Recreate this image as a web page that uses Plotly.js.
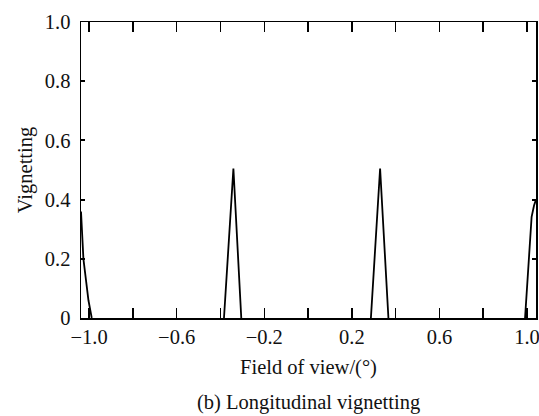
<!DOCTYPE html>
<html>
<head>
<meta charset="utf-8">
<script src="https://cdn.plot.ly/plotly-3.0.1.min.js"></script>
<style>html,body{margin:0;padding:0;background:#fff;}#chart{width:539px;height:416px;}</style>
</head>
<body>
<div id="chart"></div>
<script>
// Data
const leftEdgeX  = [-1.037, -1.026, -1.003, -0.988];
const leftEdgeY  = [0.36, 0.20, 0.06, 0];
const peak1X     = [-0.384, -0.341, -0.305];
const peak1Y     = [0, 0.505, 0];
const peak2X     = [0.287, 0.329, 0.367];
const peak2Y     = [0, 0.505, 0];
const rightEdgeX = [0.991, 1.009, 1.021, 1.032, 1.041];
const rightEdgeY = [0, 0.196, 0.342, 0.38, 0.40];

const xTickVals = [-1.0, -0.8, -0.6, -0.4, -0.2, 0, 0.2, 0.4, 0.6, 0.8, 1.0];
const xTickText = ['\u22121.0', '', '\u22120.6', '', '\u22120.2', '', '0.2', '', '0.6', '', '1.0'];
const yTickVals = [0, 0.2, 0.4, 0.6, 0.8, 1.0];
const yTickText = ['0', '0.2', '0.4', '0.6', '0.8', '1.0'];

const xTitle = 'Field of view/(°)';
const yTitle = 'Vignetting';
const caption = '(b) Longitudinal vignetting';

const lineStyle = {color: '#000', width: 1.8};
const mk = (x, y) => ({x, y, type: 'scatter', mode: 'lines', line: lineStyle, showlegend: false, hoverinfo: 'skip'});

const data = [mk(leftEdgeX, leftEdgeY), mk(peak1X, peak1Y), mk(peak2X, peak2Y), mk(rightEdgeX, rightEdgeY)];

const font = {family: '"Liberation Serif", "Times New Roman", serif', size: 20.5, color: '#111'};

const layout = {
  width: 539, height: 416,
  margin: {l: 81, r: 3, t: 22, b: 98},
  paper_bgcolor: '#fff', plot_bgcolor: '#fff',
  font: font,
  xaxis: {
    range: [-1.037, 1.041],
    tickmode: 'array', tickvals: xTickVals, ticktext: xTickText,
    ticks: 'inside', ticklen: 10, tickwidth: 1.5, tickcolor: '#000',
    ticklabeloverflow: 'allow',
    showline: true, linecolor: '#000', linewidth: 1.5, mirror: 'ticks',
    showgrid: false, zeroline: false,
    tickfont: font,
    title: {text: xTitle, font: font, standoff: 12},
    fixedrange: true
  },
  yaxis: {
    range: [0, 1.0],
    tickmode: 'array', tickvals: yTickVals, ticktext: yTickText,
    ticks: 'inside', ticklen: 4, tickwidth: 2, tickcolor: '#000',
    ticklabelstandoff: 5,
    showline: true, linecolor: '#000', linewidth: 1.5, mirror: 'ticks',
    showgrid: false, zeroline: false,
    tickfont: font,
    title: {text: yTitle, font: font, standoff: 6},
    fixedrange: true
  },
  annotations: [{
    text: caption, xref: 'paper', yref: 'paper', x: 0.5, y: 0,
    yshift: -84, xanchor: 'center', yanchor: 'middle', showarrow: false, font: font
  }]
};

Plotly.newPlot('chart', data, layout, {staticPlot: true, displayModeBar: false});
</script>
</body>
</html>
